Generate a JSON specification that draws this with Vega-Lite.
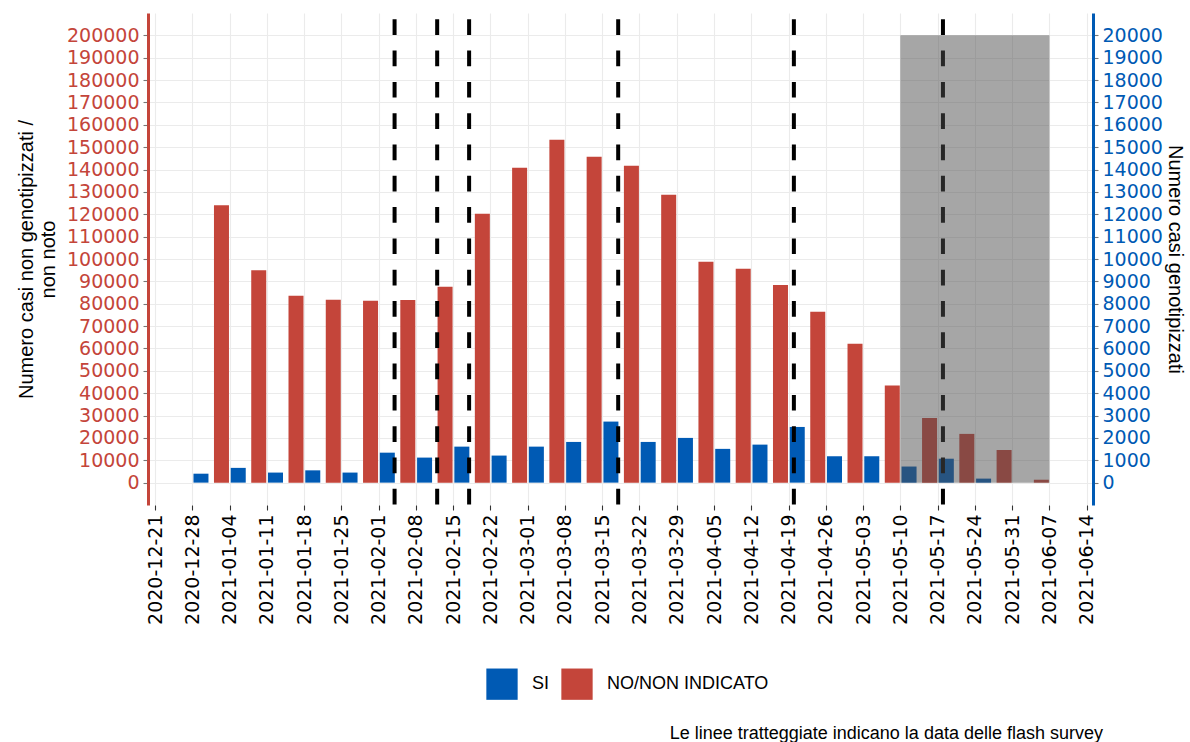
{
  "$schema": "https://vega.github.io/schema/vega-lite/v6.json",
  "width": 945,
  "height": 492,
  "autosize": {"type": "none"},
  "padding": {"left": 148, "top": 13, "right": 97, "bottom": 237},
  "background": "white",
  "title": {
    "text": "Le linee tratteggiate indicano la data delle flash survey",
    "orient": "bottom",
    "anchor": "end",
    "frame": "group",
    "font": "Liberation Sans",
    "fontSize": 18,
    "fontWeight": "normal",
    "color": "black",
    "offset": 25,
    "dx": 10
  },
  "config": {
    "view": {"stroke": null},
    "font": "Liberation Sans",
    "axis": {
      "labelFont": "DejaVu Sans",
      "titleFont": "Liberation Sans",
      "titleFontWeight": "normal",
      "titleColor": "black",
      "titleFontSize": 20,
      "gridColor": "#EBEBEB",
      "gridWidth": 1.1,
      "tickSize": 5,
      "tickWidth": 1.1,
      "labelPadding": 4
    },
    "axisX": {
      "labelAngle": -90,
      "labelFontSize": 19,
      "labelColor": "black",
      "tickColor": "#333333",
      "domain": false,
      "grid": true
    },
    "legend": {
      "labelFont": "Liberation Sans",
      "labelFontSize": 18,
      "labelColor": "black",
      "labelLimit": 400
    }
  },
  "datasets": {
    "weekly": [
      {"data": "2020-12-28", "genotipizzato": "SI", "casi": 400},
      {"data": "2020-12-28", "genotipizzato": "NO/NON INDICATO", "casi": 124000},
      {"data": "2021-01-04", "genotipizzato": "SI", "casi": 660},
      {"data": "2021-01-04", "genotipizzato": "NO/NON INDICATO", "casi": 95000},
      {"data": "2021-01-11", "genotipizzato": "SI", "casi": 450},
      {"data": "2021-01-11", "genotipizzato": "NO/NON INDICATO", "casi": 83600},
      {"data": "2021-01-18", "genotipizzato": "SI", "casi": 550},
      {"data": "2021-01-18", "genotipizzato": "NO/NON INDICATO", "casi": 81800},
      {"data": "2021-01-25", "genotipizzato": "SI", "casi": 450},
      {"data": "2021-01-25", "genotipizzato": "NO/NON INDICATO", "casi": 81300},
      {"data": "2021-02-01", "genotipizzato": "SI", "casi": 1340},
      {"data": "2021-02-01", "genotipizzato": "NO/NON INDICATO", "casi": 81700},
      {"data": "2021-02-08", "genotipizzato": "SI", "casi": 1120},
      {"data": "2021-02-08", "genotipizzato": "NO/NON INDICATO", "casi": 87600},
      {"data": "2021-02-15", "genotipizzato": "SI", "casi": 1610},
      {"data": "2021-02-15", "genotipizzato": "NO/NON INDICATO", "casi": 120200},
      {"data": "2021-02-22", "genotipizzato": "SI", "casi": 1210},
      {"data": "2021-02-22", "genotipizzato": "NO/NON INDICATO", "casi": 140800},
      {"data": "2021-03-01", "genotipizzato": "SI", "casi": 1610},
      {"data": "2021-03-01", "genotipizzato": "NO/NON INDICATO", "casi": 153300},
      {"data": "2021-03-08", "genotipizzato": "SI", "casi": 1820},
      {"data": "2021-03-08", "genotipizzato": "NO/NON INDICATO", "casi": 145700},
      {"data": "2021-03-15", "genotipizzato": "SI", "casi": 2730},
      {"data": "2021-03-15", "genotipizzato": "NO/NON INDICATO", "casi": 141700},
      {"data": "2021-03-22", "genotipizzato": "SI", "casi": 1820},
      {"data": "2021-03-22", "genotipizzato": "NO/NON INDICATO", "casi": 128700},
      {"data": "2021-03-29", "genotipizzato": "SI", "casi": 2000},
      {"data": "2021-03-29", "genotipizzato": "NO/NON INDICATO", "casi": 98800},
      {"data": "2021-04-05", "genotipizzato": "SI", "casi": 1510},
      {"data": "2021-04-05", "genotipizzato": "NO/NON INDICATO", "casi": 95600},
      {"data": "2021-04-12", "genotipizzato": "SI", "casi": 1700},
      {"data": "2021-04-12", "genotipizzato": "NO/NON INDICATO", "casi": 88400},
      {"data": "2021-04-19", "genotipizzato": "SI", "casi": 2490},
      {"data": "2021-04-19", "genotipizzato": "NO/NON INDICATO", "casi": 76400},
      {"data": "2021-04-26", "genotipizzato": "SI", "casi": 1180},
      {"data": "2021-04-26", "genotipizzato": "NO/NON INDICATO", "casi": 62100},
      {"data": "2021-05-03", "genotipizzato": "SI", "casi": 1180},
      {"data": "2021-05-03", "genotipizzato": "NO/NON INDICATO", "casi": 43400},
      {"data": "2021-05-10", "genotipizzato": "SI", "casi": 720},
      {"data": "2021-05-10", "genotipizzato": "NO/NON INDICATO", "casi": 28900},
      {"data": "2021-05-17", "genotipizzato": "SI", "casi": 1070},
      {"data": "2021-05-17", "genotipizzato": "NO/NON INDICATO", "casi": 21800},
      {"data": "2021-05-24", "genotipizzato": "SI", "casi": 180},
      {"data": "2021-05-24", "genotipizzato": "NO/NON INDICATO", "casi": 14600},
      {"data": "2021-05-31", "genotipizzato": "SI", "casi": 0},
      {"data": "2021-05-31", "genotipizzato": "NO/NON INDICATO", "casi": 1300}
    ],
    "surveys": [
      {"data": "2021-02-04"},
      {"data": "2021-02-12"},
      {"data": "2021-02-18"},
      {"data": "2021-03-18"},
      {"data": "2021-04-20"},
      {"data": "2021-05-18"}
    ],
    "shade": [
      {"data": "2021-05-10", "fine": "2021-06-07", "alto": 200000, "basso": 0}
    ]
  },
  "encoding": {
    "x": {
      "field": "data",
      "type": "temporal",
      "scale": {
        "type": "utc",
        "nice": false,
        "padding": 0,
        "domain": [
          {"year": 2020, "month": 12, "date": 19, "hours": 16, "minutes": 26, "utc": true},
          {"year": 2021, "month": 6, "date": 15, "hours": 4, "minutes": 26, "utc": true}
        ]
      },
      "axis": {
        "title": null,
        "labelExpr": "utcFormat(datum.value, '%Y-%m-%d')",
        "values": [
          {"year": 2020, "month": 12, "date": 21, "utc": true},
          {"year": 2020, "month": 12, "date": 28, "utc": true},
          {"year": 2021, "month": 1, "date": 4, "utc": true},
          {"year": 2021, "month": 1, "date": 11, "utc": true},
          {"year": 2021, "month": 1, "date": 18, "utc": true},
          {"year": 2021, "month": 1, "date": 25, "utc": true},
          {"year": 2021, "month": 2, "date": 1, "utc": true},
          {"year": 2021, "month": 2, "date": 8, "utc": true},
          {"year": 2021, "month": 2, "date": 15, "utc": true},
          {"year": 2021, "month": 2, "date": 22, "utc": true},
          {"year": 2021, "month": 3, "date": 1, "utc": true},
          {"year": 2021, "month": 3, "date": 8, "utc": true},
          {"year": 2021, "month": 3, "date": 15, "utc": true},
          {"year": 2021, "month": 3, "date": 22, "utc": true},
          {"year": 2021, "month": 3, "date": 29, "utc": true},
          {"year": 2021, "month": 4, "date": 5, "utc": true},
          {"year": 2021, "month": 4, "date": 12, "utc": true},
          {"year": 2021, "month": 4, "date": 19, "utc": true},
          {"year": 2021, "month": 4, "date": 26, "utc": true},
          {"year": 2021, "month": 5, "date": 3, "utc": true},
          {"year": 2021, "month": 5, "date": 10, "utc": true},
          {"year": 2021, "month": 5, "date": 17, "utc": true},
          {"year": 2021, "month": 5, "date": 24, "utc": true},
          {"year": 2021, "month": 5, "date": 31, "utc": true},
          {"year": 2021, "month": 6, "date": 7, "utc": true},
          {"year": 2021, "month": 6, "date": 14, "utc": true}
        ]
      }
    }
  },
  "layer": [
    {
      "data": {"name": "weekly"},
      "transform": [{"filter": "datum.genotipizzato === 'NO/NON INDICATO'"}],
      "mark": {"type": "bar", "width": 15, "xOffset": 29.2},
      "encoding": {
        "y": {
          "field": "casi",
          "type": "quantitative",
          "scale": {"domain": [-10000, 210000], "nice": false, "zero": false},
          "axis": {
            "orient": "left",
            "title": ["Numero casi non genotipizzati /", "non noto"],
            "titleLineHeight": 22,
            "titlePadding": 8,
            "values": [0, 10000, 20000, 30000, 40000, 50000, 60000, 70000, 80000, 90000, 100000, 110000, 120000, 130000, 140000, 150000, 160000, 170000, 180000, 190000, 200000],
            "format": "d",
            "labelFontSize": 19,
            "labelColor": "#C4453A",
            "domainColor": "#C4453A",
            "domainWidth": 3,
            "tickColor": "#777777",
            "grid": true
          }
        },
        "color": {
          "field": "genotipizzato",
          "type": "nominal",
          "scale": {"domain": ["SI", "NO/NON INDICATO"], "range": ["#005AB4", "#C4453A"]},
          "legend": {
            "title": null,
            "orient": "none",
            "direction": "horizontal",
            "legendX": 338,
            "legendY": 655,
            "padding": 0,
            "symbolType": "square",
            "symbolSize": 980,
            "symbolStrokeWidth": 0,
            "symbolOpacity": 1,
            "labelOffset": 14,
            "columnPadding": 11
          }
        }
      }
    },
    {
      "data": {"name": "weekly"},
      "transform": [{"filter": "datum.genotipizzato === 'SI'"}],
      "mark": {"type": "bar", "width": 15, "xOffset": 8.7},
      "encoding": {
        "y": {
          "field": "casi",
          "type": "quantitative",
          "scale": {"domain": [-1000, 21000], "nice": false, "zero": false},
          "axis": {
            "orient": "right",
            "title": "Numero casi genotipizzati",
            "titleAngle": 90,
            "titlePadding": 2,
            "values": [0, 1000, 2000, 3000, 4000, 5000, 6000, 7000, 8000, 9000, 10000, 11000, 12000, 13000, 14000, 15000, 16000, 17000, 18000, 19000, 20000],
            "format": "d",
            "labelFontSize": 19,
            "labelColor": "#005AB4",
            "domainColor": "#005AB4",
            "domainWidth": 3,
            "tickColor": "#777777",
            "grid": false
          }
        },
        "color": {"field": "genotipizzato", "type": "nominal"}
      }
    },
    {
      "data": {"name": "surveys"},
      "mark": {"type": "rule", "color": "black", "strokeWidth": 4, "strokeDash": [15.7, 15.6], "strokeDashOffset": 25},
      "encoding": {}
    },
    {
      "data": {"name": "shade"},
      "mark": {"type": "rect", "color": "#4D4D4D", "opacity": 0.5},
      "encoding": {
        "x2": {"field": "fine"},
        "y": {
          "field": "alto",
          "type": "quantitative",
          "scale": {"domain": [-10000, 210000], "nice": false, "zero": false},
          "axis": null
        },
        "y2": {"field": "basso"}
      }
    }
  ],
  "resolve": {"scale": {"y": "independent"}}
}
